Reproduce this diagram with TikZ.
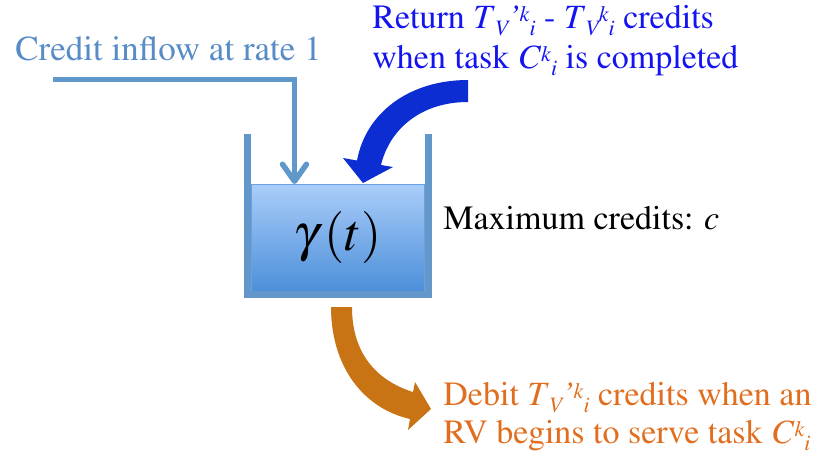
\documentclass[tikz,border=0pt]{standalone}
\usepackage[T1]{fontenc}
\usepackage{mathptmx}
\usepackage{tikz}
\usetikzlibrary{arrows.meta, positioning}
\usepackage{xcolor}

\definecolor{inflowblue}{RGB}{97,152,203}
\definecolor{inflowtext}{RGB}{88,140,198}
\definecolor{wallblue}{RGB}{99,151,202}
\definecolor{waterlight}{RGB}{170,205,250}
\definecolor{waterdark}{RGB}{76,143,217}
\definecolor{returnblue}{RGB}{12,45,210}
\definecolor{returntext}{RGB}{20,20,240}
\definecolor{debitorange}{RGB}{200,115,20}
\definecolor{debittext}{RGB}{225,110,30}

\newcommand\bigtx{\fontsize{34}{39}\selectfont}
\newcommand\subtx[1]{\raisebox{-7.5pt}{\fontsize{22}{22}\selectfont\itshape #1}}
\newcommand\suptx[1]{\raisebox{7pt}{\fontsize{22}{22}\selectfont\itshape #1}}
\newcommand\kidx{\suptx{k}\subtx{i}}

\begin{document}
\begin{tikzpicture}[x=1pt, y=-1pt, thick]
        % Define styles
        \tikzstyle{txt} = [anchor=base west, inner sep=0pt, font=\bigtx]
        \tikzstyle{water} = [rectangle, draw=waterdark!70!waterlight, line width=1pt, top color=waterlight, bottom color=waterdark, minimum width=173.5pt, minimum height=107pt, inner sep=0pt]
        \tikzstyle{wall} = [draw=wallblue, line width=7pt]
        \tikzstyle{inflow} = [draw=inflowblue, line width=5.5pt, -{Straight Barb[length=17pt, width=24pt, round]}]

        \useasboundingbox (0,0) rectangle (819,456);

        % Tank with credits
        \node [water] (tank) at (337.75,237.5) {\fontsize{52}{52}\selectfont$\gamma\mkern2mu(t)$};
        \draw [wall] (247.5,134) -- (247.5,298);
        \draw [wall] (428,134) -- (428,298);
        \draw [wall] (244,294.5) -- (431.5,294.5);

        % Labels
        \node [txt, text=inflowtext, font=\fontsize{35}{39}\selectfont] (inflowlbl) at (15,60) {Credit inflow at rate 1};
        \node [txt, text=returntext] (ret1) at (372,28) {Return \textit{T}\subtx{V}\textit{'}\kidx{} - \textit{T}\subtx{V}\kidx{} credits};
        \node [txt, text=returntext] (ret2) at ([yshift=-40pt]ret1.base west) {when task \textit{C}\kidx{} is completed};
        \node [txt] (maxc) at (443,229) {Maximum credits: \textit{c}};
        \node [txt, text=debittext] (deb1) at (443,405) {Debit \textit{T}\subtx{V}\textit{'}\kidx{} credits when an};
        \node [txt, text=debittext] (deb2) at ([yshift=-38pt]deb1.base west) {RV begins to serve task \textit{C}\kidx};

        % Credit inflow
        \coordinate (inStart) at (53,79.5);
        \coordinate (inEnd) at (294.5,184);
        \draw [inflow] (inStart) -| (inEnd);

        % Return arrow
        \fill [returnblue] (468,80) .. controls (410,80) and (366,112) .. (357,160.5) -- (343,158) -- (363,183) -- (393,167) -- (381,165) .. controls (390,128) and (422,102) .. (468,102) -- cycle;

        % Debit arrow
        \fill [debitorange] (331,307) -- (352,307) .. controls (352,352) and (375,380) .. (413,392) -- (415,382) -- (431,409) -- (408,430) -- (410,419) .. controls (362,408) and (331,365) .. (331,307) -- cycle;

\end{tikzpicture}
\end{document}
